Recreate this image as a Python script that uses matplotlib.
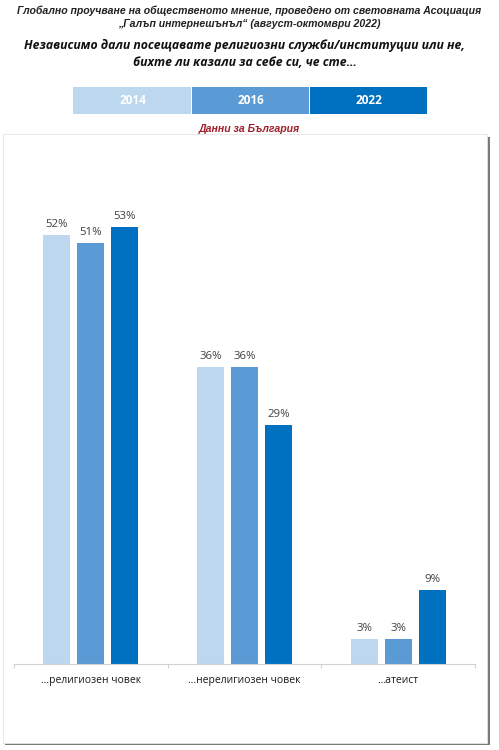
import matplotlib
matplotlib.use("Agg")
import matplotlib.pyplot as plt
import numpy as np
from matplotlib.patches import Rectangle

categories = ["…религиозен човек", "…нерелигиозен човек", "…атеист"]
years = ["2014", "2016", "2022"]
values_2014 = [52, 36, 3]
values_2016 = [51, 36, 3]
values_2022 = [53, 29, 9]
colors = ["#BDD7EE", "#5B9BD5", "#0070C0"]

fig = plt.figure(figsize=(4.99, 7.5), dpi=100)
W, H = 499, 750

def fx(px):
    return px / W

def fy(py):
    return 1 - py / H

# panel with shadow
fig.patches.append(Rectangle((fx(5), fy(745)), fx(485), (745 - 137) / H,
                             transform=fig.transFigure, facecolor="#7a7a7a",
                             edgecolor="none", zorder=-3))
fig.patches.append(Rectangle((fx(3), fy(743)), fx(484), (743 - 134) / H,
                             transform=fig.transFigure, facecolor="white",
                             edgecolor="#e4e4e4", linewidth=0.6, zorder=-2))

title_font = ["Liberation Sans", "DejaVu Sans"]
q_font = ["Open Sans", "DejaVu Sans"]
fig.text(0.5, fy(11), "Глобално проучване на общественото мнение, проведено от световната Асоциация",
         ha="center", va="center", fontsize=7.6, fontweight="bold", fontstyle="italic",
         family=title_font, color="#222222")
fig.text(0.5, fy(24), "„Галъп интернешънъл“ (август-октомври 2022)",
         ha="center", va="center", fontsize=7.6, fontweight="bold", fontstyle="italic",
         family=title_font, color="#222222")
fig.text(0.49, fy(45), "Независимо дали посещавате религиозни служби/институции или не,",
         ha="center", va="center", fontsize=8.8, fontweight="bold", fontstyle="italic",
         family=q_font, color="#111111")
fig.text(0.49, fy(63), "бихте ли казали за себе си, че сте…",
         ha="center", va="center", fontsize=8.8, fontweight="bold", fontstyle="italic",
         family=q_font, color="#111111")

# legend bar
lx = [73, 192, 310, 428]
for i, (yr, c) in enumerate(zip(years, colors)):
    fig.patches.append(Rectangle((fx(lx[i]), fy(114)), (lx[i + 1] - lx[i] - 1) / W, 27 / H,
                                 transform=fig.transFigure, facecolor=c,
                                 edgecolor="none", zorder=1))
    fig.text(fx((lx[i] + lx[i + 1]) / 2), fy(101), yr, ha="center", va="center",
             fontsize=8.5, fontweight="bold", color="white",
             family=["Open Sans", "DejaVu Sans"], zorder=2)

fig.text(0.5, fy(129), "Данни за България", ha="center", va="center",
         fontsize=7.6, fontweight="bold", fontstyle="italic",
         family=title_font, color="#A0202A")

ax = fig.add_axes([fx(14), fy(664), (475 - 14) / W, 495 / H])
ax.set_facecolor("none")
x = np.arange(len(categories))
step = 0.221
width = 0.176
series = [values_2014, values_2016, values_2022]
for i, (vals, c) in enumerate(zip(series, colors)):
    pos = x + (i - 1) * step
    bars = ax.bar(pos, vals, width=width, color=c, zorder=2)
    for b, v in zip(bars, vals):
        ax.text(b.get_x() + b.get_width() / 2, v + 0.6, f"{v}%", ha="center",
                va="bottom", fontsize=8.2, color="#404040",
                family=["Open Sans", "DejaVu Sans"])

ax.set_xlim(-0.5, 2.5)
ax.set_ylim(0, 60)
for s in ["top", "right", "left"]:
    ax.spines[s].set_visible(False)
ax.spines["bottom"].set_color("#d0d0d0")
ax.spines["bottom"].set_linewidth(0.8)
ax.set_yticks([])
ax.set_xticks([-0.5, 0.5, 1.5, 2.5], minor=False)
ax.set_xticklabels([])
ax.tick_params(axis="x", length=3, color="#d0d0d0", width=0.8)
ax.set_xticks(x, minor=True)
ax.set_xticklabels(categories, minor=True, fontsize=7.5, color="#1a1a1a",
                   family=["Open Sans", "DejaVu Sans"])
ax.tick_params(axis="x", which="minor", length=0, pad=8)

fig.savefig("out.png", dpi=100)
